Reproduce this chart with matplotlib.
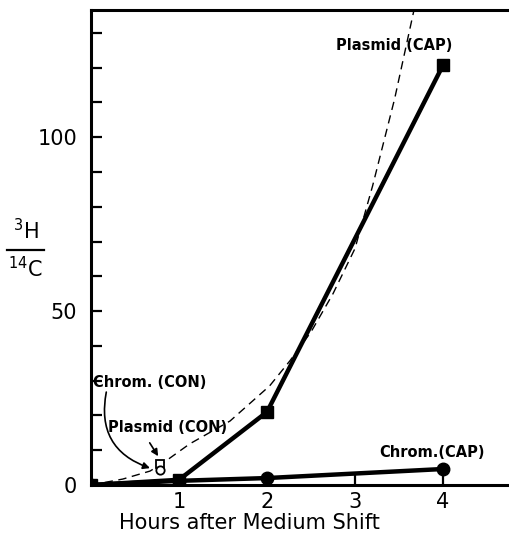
import matplotlib
matplotlib.use("Agg")
import matplotlib.pyplot as plt
from matplotlib.lines import Line2D
from matplotlib.ticker import MultipleLocator

# hours after the medium shift
hours = [0, 1, 2, 4]
plasmid_cap = [0, 1.5, 21, 120.7]
chrom_cap = [0, 1.2, 2, 4.6]

# control samples at the shift
con_hours = [0.78]
plasmid_con = [6.0]
chrom_con = [4.3]

# hand-drawn exponential guide curve
guide_x = [0, 0.36, 0.67, 0.8, 1.12, 1.58, 2.03, 2.26, 2.5, 2.75, 3.0, 3.2, 3.45, 3.7]
guide_y = [0, 1.7, 4.0, 6.0, 11.8, 18.4, 28.5, 35.7, 44, 55, 68, 86, 111, 140]

x_ticks = [1, 2, 3, 4]
y_labels = [0, 50, 100]

fig = plt.figure(figsize=(5.09, 5.38), dpi=100)
ax = fig.add_axes([0.1788, 0.0985, 0.8212, 0.8825])

ax.plot(guide_x, guide_y, color="black", lw=1.0, ls=(0, (6, 4)), zorder=2)
ax.plot(hours, plasmid_cap, color="black", lw=3.2, marker="s", ms=9, zorder=3)
ax.plot(hours, chrom_cap, color="black", lw=3.2, marker="o", ms=9, zorder=3)
ax.plot(con_hours, plasmid_con, ls="none", marker="s", ms=6, mfc="white",
        mec="black", mew=1.3, zorder=4)
ax.plot(con_hours, chrom_con, ls="none", marker="o", ms=6, mfc="white",
        mec="black", mew=1.3, zorder=4)

ax.set_xlim(0, 4.75)
ax.set_ylim(0, 136.5)

for side in ["left", "bottom", "top"]:
    ax.spines[side].set_linewidth(2.2)
ax.spines["right"].set_visible(False)

ax.set_xticks(x_ticks)
ax.set_yticks(y_labels)
ax.yaxis.set_minor_locator(MultipleLocator(10))
ax.tick_params(axis="both", which="both", direction="in", width=1.6, length=8,
               labelsize=15, pad=10)
ax.tick_params(axis="x", pad=5)

ax.set_xlabel("Hours after Medium Shift", fontsize=15)
ax.xaxis.set_label_coords(0.378, -0.058)
ax.xaxis.label.set_verticalalignment("top")

# stacked ratio label on the y axis
fig.text(0.050, 0.548, "$^{3}$H", fontsize=15, ha="center", va="bottom")
fig.text(0.050, 0.525, "$^{14}$C", fontsize=15, ha="center", va="top")
fig.add_artist(Line2D([0.014, 0.087], [0.535, 0.535], color="black", lw=1.6))

lab = dict(fontsize=10.5, fontweight="bold", ha="center", va="center")
ax.text(3.45, 126.5, "Plasmid (CAP)", **lab)
ax.text(3.88, 9.4, "Chrom.(CAP)", **lab)
ax.text(0.87, 16.4, "Plasmid (CON)", **lab)
ax.text(0.67, 29.4, "Chrom. (CON)", **lab)

ax.annotate("", xy=(0.78, 7.6), xytext=(0.65, 12.8),
            arrowprops=dict(arrowstyle="-|>", color="black", lw=1.2,
                            mutation_scale=10))
ax.annotate("", xy=(0.70, 4.6), xytext=(0.18, 27.5),
            arrowprops=dict(arrowstyle="-|>", color="black", lw=1.2,
                            mutation_scale=10,
                            connectionstyle="arc3,rad=0.45"))

fig.savefig("out.png", dpi=100)
